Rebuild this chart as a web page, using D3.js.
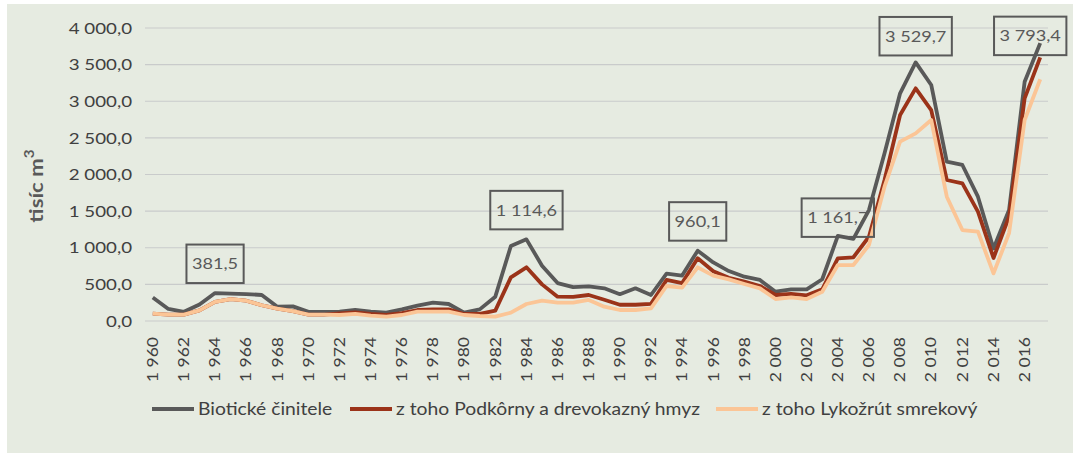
<!DOCTYPE html>
<html><head><meta charset="utf-8">
<script src="https://cdn.jsdelivr.net/npm/d3@7"></script>
<style>body{margin:0;background:#fff;}svg{display:block;}</style>
</head><body>
<svg id="c" width="1073" height="453"></svg>
<script>
const years = d3.range(1960, 2018);
const biotic = [320,165,125,225,381.5,375,368,355,195,200,125,125,127,150,127,114,159,209,250,232,114,159,332,1024,1114.6,755,518,462,472,446,366,446,355,646,620,960.1,800,682,605,560,400,432,432,570,1161.7,1120,1515,2290,3108,3529.7,3222,2175,2130,1697,990,1515,3267,3793.4];
const podkorny = [100,88,88,145,262,300,277,215,170,135,88,88,105,118,96,85,109,150,159,159,96,96,141,596,733,500,332,328,355,290,222,222,235,560,518,856,680,590,537,478,355,369,350,432,856,870,1150,1925,2812,3176,2880,1925,1880,1493,860,1424,3040,3600];
const lykozrut = [100,88,88,145,262,300,277,215,170,135,88,88,82,96,73,59,82,127,127,127,82,68,59,114,232,277,250,250,287,195,150,150,173,478,455,733,620,569,505,446,300,323,300,400,764,764,1037,1834,2448,2562,2744,1697,1242,1220,650,1200,2744,3300];
const seriesNames = ["Biotické činitele","z toho Podkôrny a drevokazný hmyz","z toho Lykožrút smrekový"];
const yTicks = [0,500,1000,1500,2000,2500,3000,3500,4000];
const labelYears = [1964,1984,1995,2004,2009,2017];

const colors = ["#595959","#9b3319","#fbc596"];
const fmt = v => { const s = d3.format(",.1f")(v); return s.replace(/,/g," ").replace(".", ","); };
const fmtYear = y => { const s = String(y); return s[0] + " " + s.slice(1); };
const K = 1.17;
function stretch(sel){ sel.each(function(){ const L=this.getComputedTextLength(); d3.select(this).attr("textLength",L*K).attr("lengthAdjust","spacingAndGlyphs"); }); }

const svg = d3.select("#c");
svg.append("rect").attr("x",7).attr("y",4).attr("width",1066).attr("height",449).attr("fill","#e6ebe1");

const x = d3.scaleBand().domain(years).range([145,1048]);
const y = d3.scaleLinear().domain([0,4000]).range([321,28]);
const font = "Lato, 'Open Sans', sans-serif";

// grid
svg.append("g").selectAll("line").data(yTicks).join("line")
  .attr("x1",145).attr("x2",1048).attr("y1",d=>y(d)).attr("y2",d=>y(d))
  .attr("stroke","#c9cbcb").attr("stroke-width",1.2);

// y axis
const ya = svg.append("g").attr("transform","translate(132,0)")
  .call(d3.axisLeft(y).tickValues(yTicks).tickSize(0).tickPadding(0).tickFormat(fmt));
ya.select(".domain").remove();
ya.selectAll("text").attr("font-family",font).attr("font-size",16).attr("fill","#404040").call(stretch);

// x axis
const xa = svg.append("g").attr("transform","translate(0,337)")
  .call(d3.axisBottom(x).tickValues(years.filter(d=>d%2===0)).tickSize(0).tickPadding(0).tickFormat(fmtYear));
xa.select(".domain").remove();
xa.selectAll("text").attr("font-family",font).attr("font-size",15).attr("fill","#404040")
  .attr("text-anchor","end").attr("transform","rotate(-90)").attr("dx",0).attr("dy","0.35em").attr("x",0).attr("y",0)
  .call(stretch);

// y title
const yt = svg.append("text").attr("transform","translate(43,186) rotate(-90)")
  .attr("text-anchor","middle").attr("font-family",font).attr("font-weight","bold")
  .attr("fill","#595959");
yt.append("tspan").attr("font-size",19).text("tisíc m");
yt.append("tspan").attr("font-size",13).attr("dy",-9).text("3");
stretch(yt.selectAll("tspan"));

// lines
const line = d3.line().x((d,i)=>x(years[i])+x.bandwidth()/2).y(d=>y(d));
[biotic,podkorny,lykozrut].forEach((s,i)=>{
  svg.append("path").datum(s).attr("d",line).attr("fill","none")
    .attr("stroke",colors[i]).attr("stroke-width",3.8).attr("stroke-linejoin","round");
});

// data labels
const offsets = {2004:-1, 2009:7, 2017:-12};
const dxo = {2017:-10};
labelYears.forEach(yr=>{
  const i = years.indexOf(yr);
  const v = biotic[i];
  const cx = x(yr)+x.bandwidth()/2 + (dxo[yr]||0);
  const txt = fmt(v);
  let bottom = y(v) - (offsets[yr]!==undefined ? offsets[yr] : 10);
  const h = 38.5;
  const g = svg.append("g");
  const t = g.append("text").attr("x",cx).attr("y",bottom-h/2).attr("dy","0.35em")
    .attr("text-anchor","middle").attr("font-family",font).attr("font-size",15.5).attr("fill","#595959").text(txt);
  const L = t.node().getComputedTextLength()*K;
  t.attr("textLength",L).attr("lengthAdjust","spacingAndGlyphs");
  const w = L + 11;
  g.insert("rect","text").attr("x",cx-w/2).attr("y",bottom-h).attr("width",w).attr("height",h)
    .attr("fill","none").attr("stroke","#595959").attr("stroke-width",2);
});

// legend
const legX = [152,350,716];
seriesNames.forEach((n,i)=>{
  svg.append("line").attr("x1",legX[i]).attr("x2",legX[i]+42).attr("y1",409).attr("y2",409)
    .attr("stroke",colors[i]).attr("stroke-width",3.8);
  svg.append("text").attr("x",legX[i]+46).attr("y",409).attr("dy","0.35em")
    .attr("font-family",font).attr("font-size",16.5).attr("fill","#404040").text(n).call(stretch);
});
</script>
</body></html>
